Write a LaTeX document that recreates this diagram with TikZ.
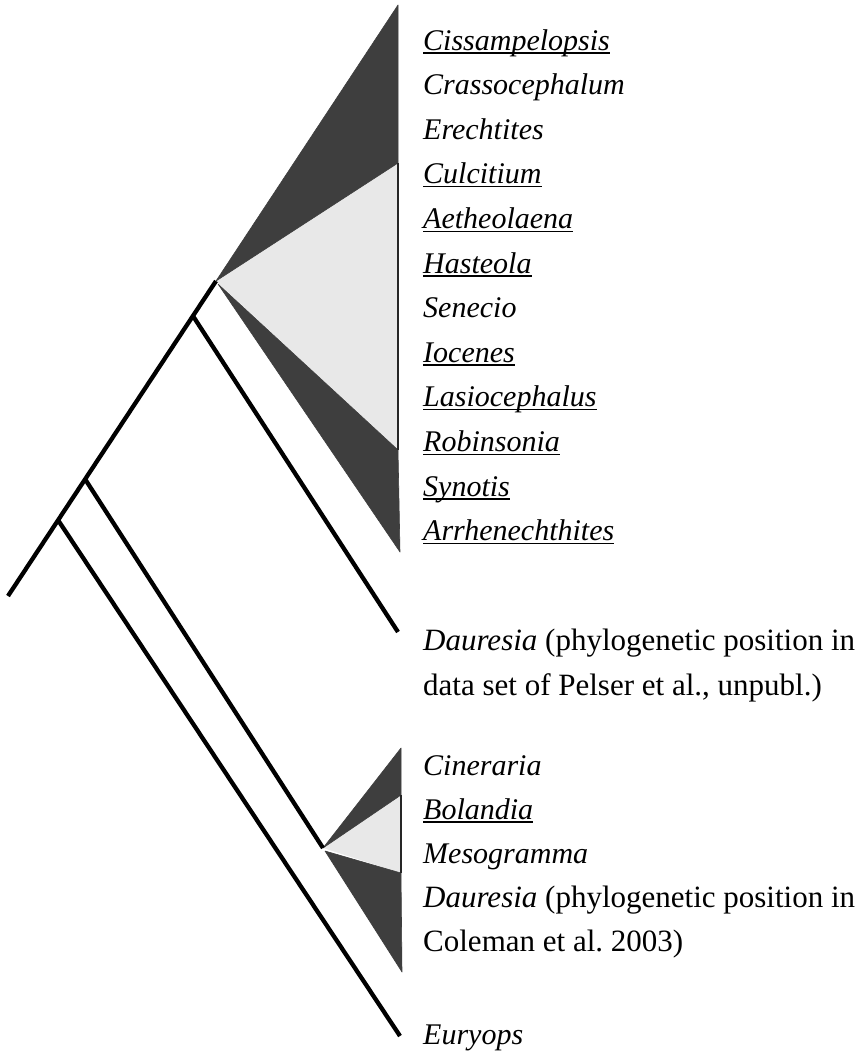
\documentclass[tikz,border=0pt]{standalone}
\usepackage{fontspec}
\setmainfont{Liberation Serif}
\definecolor{cladedark}{RGB}{62,62,62}
\definecolor{cladelight}{RGB}{232,232,232}
\newcommand\ulbox[1]{\setbox0\hbox{#1}\rlap{\rule[-3.5pt]{\wd0}{1.4pt}}\box0}
\begin{document}
\begin{tikzpicture}[x=1pt,y=-1pt,
  branch/.style={line width=4.3pt, draw=black},
  darkclade/.style={fill=cladedark, draw=cladedark, line width=0.6pt, line join=round},
  lightclade/.style={fill=cladelight},
  tipline/.style={line width=1.3pt, draw=black!85},
  taxon/.style={anchor=base west, inner sep=0pt, font=\fontsize{30}{36}\selectfont\itshape},
  note/.style={anchor=base west, inner sep=0pt, font=\fontsize{31}{37}\selectfont}]
\fill[white] (0,0) rectangle (860,1053);
\useasboundingbox (0,0) rectangle (860,1053);
% node points
\coordinate (root) at (8,596);
\coordinate (n1) at (58,520);
\coordinate (n2) at (85,479);
\coordinate (n3) at (193,316);
\coordinate (top) at (216,281);
\coordinate (topb) at (218,284);
\coordinate (low) at (323,848);
\coordinate (lowb) at (325,851);
\coordinate (daurA) at (398,632);
\coordinate (eury) at (400,1036);
% upper clade
\coordinate (u1) at (398,5);
\coordinate (u2) at (398,163);
\coordinate (u3) at (398,450);
\coordinate (u4) at (400,552);
\path[lightclade] (top) -- (u2) -- (u3) -- cycle;
\path[darkclade] (top) -- (u1) -- (u2) -- cycle;
\path[darkclade] (topb) -- (u3) -- (u4) -- cycle;
\draw[tipline] (u2) -- (u3);
% lower clade
\coordinate (l1) at (401,748);
\coordinate (l2) at (401,795);
\coordinate (l3) at (401,873);
\coordinate (l4) at (402,972);
\path[lightclade] (low) -- (l2) -- (l3) -- cycle;
\path[darkclade] (low) -- (l1) -- (l2) -- cycle;
\path[darkclade] (lowb) -- (l3) -- (l4) -- cycle;
\draw[tipline] (l2) -- (l3);
% branches
\draw[branch] (root) -- (top);
\draw[branch] (n1) -- (eury);
\draw[branch] (n2) -- (low);
\draw[branch] (n3) -- (daurA);
% labels upper clade
\node[taxon] (t1) at (423,50) {\ulbox{Cissampelopsis}};
\node[taxon] (t2) at (423,94.6) {Crassocephalum};
\node[taxon] (t3) at (423,139.2) {Erechtites};
\node[taxon] (t4) at (423,183.8) {\ulbox{Culcitium}};
\node[taxon] (t5) at (423,228.4) {\ulbox{Aetheolaena}};
\node[taxon] (t6) at (423,273) {\ulbox{Hasteola}};
\node[taxon] (t7) at (423,317.6) {Senecio};
\node[taxon] (t8) at (423,362.2) {\ulbox{Iocenes}};
\node[taxon] (t9) at (423,406.8) {\ulbox{Lasiocephalus}};
\node[taxon] (t10) at (423,451.4) {\ulbox{Robinsonia}};
\node[taxon] (t11) at (423,496) {\ulbox{Synotis}};
\node[taxon] (t12) at (423,540.6) {\ulbox{Arrhenechthites}};
% Dauresia (Pelser)
\node[note] (d1) at (423,650) {\textit{Dauresia} (phylogenetic position in};
\node[note] (d2) at (423,695) {data set of Pelser et al., unpubl.)};
% lower clade labels
\node[taxon] (c1) at (423,775) {Cineraria};
\node[taxon] (c2) at (423,819) {\ulbox{Bolandia}};
\node[taxon] (c3) at (423,863) {Mesogramma};
\node[note] (c4) at (423,907) {\textit{Dauresia} (phylogenetic position in};
\node[note] (c5) at (423,951) {Coleman et al.\ 2003)};
\node[taxon] (e1) at (423,1044) {Euryops};
\end{tikzpicture}
\end{document}
